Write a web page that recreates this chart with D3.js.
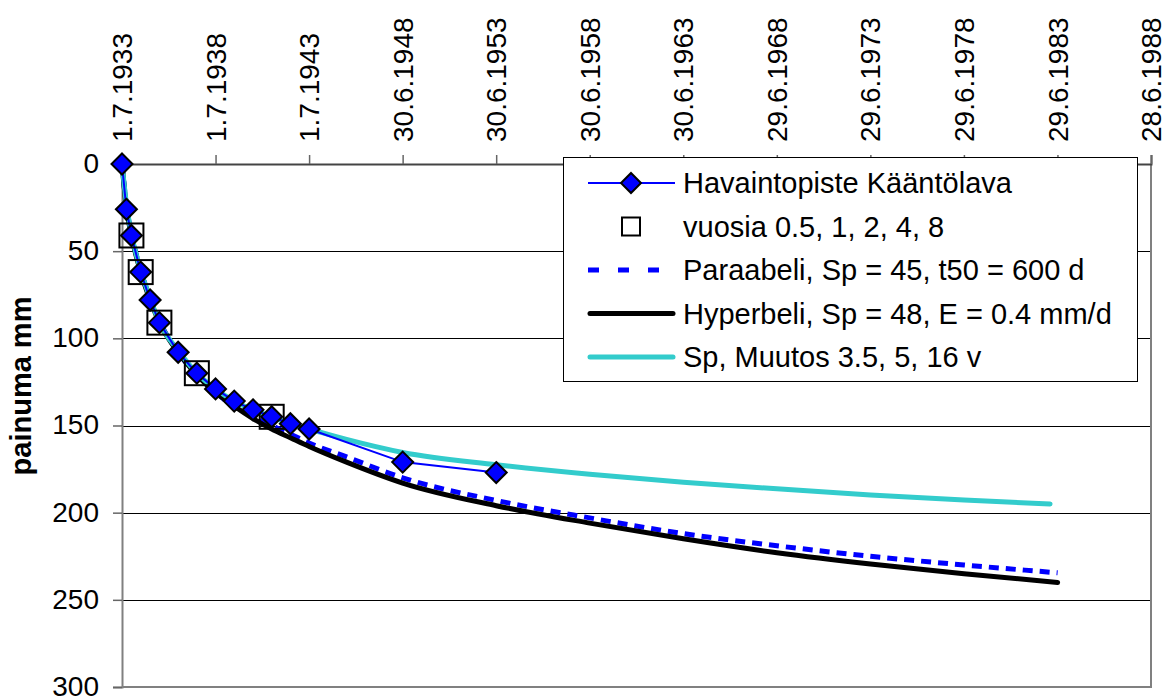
<!DOCTYPE html>
<html>
  <head>
    <meta charset="UTF-8">
    <style>
      body {
        margin: 0;
        background: #fff;
        font-family: "Liberation Sans", Arial, sans-serif;
      }

      .tick-label {
        font-size: 28px;
      }

      .legend-text {
        font-size: 29px;
      }
    </style>
    <script src="https://d3js.org/d3.v7.min.js"></script>
  </head>

  <body>
    <svg id="chart"></svg>

    <script type="text/javascript">
      // x axis: dates, ticks every 1826 days
      const xTickDates = ['1933-07-01', '1938-07-01', '1943-07-01', '1948-06-30', '1953-06-30', '1958-06-30',
        '1963-06-30', '1968-06-29', '1973-06-29', '1978-06-29', '1983-06-29', '1988-06-28']
      const xTickLabels = ['1.7.1933', '1.7.1938', '1.7.1943', '30.6.1948', '30.6.1953', '30.6.1958',
        '30.6.1963', '29.6.1968', '29.6.1973', '29.6.1978', '29.6.1983', '28.6.1988']
      const yTicks = [0, 50, 100, 150, 200, 250, 300]

      // Havaintopiste Kääntölava (observed settlement, mm)
      const obsDates = ['1933-07-01', '1933-09-25', '1934-01-01', '1934-07-01', '1935-01-01', '1935-07-01',
        '1936-07-01', '1937-07-01', '1938-07-01', '1939-07-01', '1940-07-01', '1941-07-01',
        '1942-07-01', '1943-07-01', '1948-07-01', '1953-07-01']
      const obsValues = [0, 26, 41, 62, 78, 91, 108, 120, 129, 136, 141, 145, 149, 152, 171, 177]

      // vuosia 0.5, 1, 2, 4, 8
      const yearDates = ['1934-01-01', '1934-07-01', '1935-07-01', '1937-07-01', '1941-07-01']
      const yearValues = [41, 62, 91, 120, 145]

      // fitted curves, time in years after 1.7.1933
      const paraYears = [0, 0.25, 0.5, 1, 1.5, 2, 3, 4, 5, 6, 7, 8, 9, 10, 12, 15, 20, 25, 30, 35, 40, 45, 50]
      const paraValues = [0, 25, 40, 61, 77, 90, 108, 121, 131, 139, 145, 150, 155, 160, 168, 180, 193, 203, 212, 219, 225, 230, 234.5]

      const hyperYears = [0, 0.25, 0.5, 1, 1.5, 2, 3, 4, 5, 6, 7, 8, 9, 10, 12, 15, 20, 25, 30, 35, 40, 45, 50]
      const hyperValues = [0, 26, 41, 62, 78, 91, 108, 121, 131, 139, 146, 152, 157, 162, 171, 183, 196, 206, 215, 223, 229.5, 235, 240]

      const muutosYears = [0, 0.25, 0.5, 1, 1.5, 2, 3, 4, 5, 6, 7, 8, 9, 10, 12, 15, 20, 25, 30, 35, 40, 45, 49.6]
      const muutosValues = [0, 24, 40, 61, 77, 91, 107, 120, 129, 136, 141, 145, 149, 152, 158, 165.5, 172.5, 178, 182.5, 186.3, 189.8, 192.8, 195]

      const legendItems = [
        {key: 'obs', title: 'Havaintopiste Kääntölava'},
        {key: 'years', title: 'vuosia 0.5, 1, 2, 4, 8'},
        {key: 'para', title: 'Paraabeli, Sp = 45, t50 = 600 d'},
        {key: 'hyper', title: 'Hyperbeli, Sp = 48, E = 0.4 mm/d'},
        {key: 'muutos', title: 'Sp, Muutos 3.5, 5, 16 v'}
      ]

      const parse = d3.utcParse('%Y-%m-%d')
      const start = parse('1933-07-01')
      const yearsToDate = y => d3.utcDay.offset(start, Math.round(y * 365.25))

      const width = 1171
      const height = 697
      const plot = {left: 122, right: 1151, top: 164, bottom: 687}

      const svg = d3.select('#chart')
        .attr('width', width)
        .attr('height', height)

      const x = d3.scaleUtc()
        .domain([start, parse('1988-06-28')])
        .range([plot.left, plot.right])

      const y = d3.scaleLinear()
        .domain([0, 300])
        .range([plot.top, plot.bottom])

      // grid lines
      svg.append('g')
        .selectAll('line')
        .data(yTicks.filter(d => d > 0 && d < 300))
        .enter().append('line')
        .attr('x1', plot.left).attr('x2', plot.right)
        .attr('y1', d => Math.round(y(d)) + 0.5).attr('y2', d => Math.round(y(d)) + 0.5)
        .attr('stroke', '#000')
        .attr('stroke-width', 1)

      // plot frame (right, bottom)
      svg.append('path')
        .attr('d', `M${plot.right},${plot.top} V${plot.bottom} H${plot.left}`)
        .attr('fill', 'none')
        .attr('stroke', '#808080')
        .attr('stroke-width', 2)

      // top axis
      let axisX = d3.axisTop(x)
        .tickValues(xTickDates.map(parse))
        .tickSize(9)
        .tickFormat('')
      let gx = svg.append('g')
        .attr('transform', `translate(0, ${plot.top})`)
        .call(axisX)
      gx.select('.domain').attr('stroke', '#444').attr('stroke-width', 2)
      gx.selectAll('.tick line').attr('stroke', '#666').attr('stroke-width', 1.5)

      svg.append('g')
        .selectAll('text')
        .data(xTickDates)
        .enter().append('text')
        .attr('class', 'tick-label')
        .attr('transform', d => `translate(${x(parse(d))}, 142) rotate(-90)`)
        .attr('dy', '0.36em')
        .attr('text-anchor', 'start')
        .text((d, i) => xTickLabels[i])

      // left axis
      let axisY = d3.axisLeft(y)
        .tickValues(yTicks)
        .tickSize(9)
        .tickPadding(14)
      let gy = svg.append('g')
        .attr('transform', `translate(${plot.left}, 0)`)
        .call(axisY)
      gy.select('.domain').attr('stroke', '#808080').attr('stroke-width', 2)
      gy.selectAll('.tick line').attr('stroke', '#666').attr('stroke-width', 1.5)
      gy.selectAll('.tick text')
        .attr('class', 'tick-label')
        .attr('font-family', null)
        .attr('font-size', null)
        .attr('fill', '#000')
        .attr('dy', '0.3em')

      svg.append('text')
        .attr('transform', 'translate(31, 386) rotate(-90)')
        .attr('text-anchor', 'middle')
        .style('font-size', '29px')
        .style('font-weight', 'bold')
        .text('painuma mm')

      // curves
      const curveLine = d3.line()
        .x(d => x(d[0]))
        .y(d => y(d[1]))
        .curve(d3.curveMonotoneX)

      const paraData = paraYears.map((t, i) => [yearsToDate(t), paraValues[i]])
      const hyperData = hyperYears.map((t, i) => [yearsToDate(t), hyperValues[i]])
      const muutosData = muutosYears.map((t, i) => [yearsToDate(t), muutosValues[i]])
      const obsData = obsDates.map((d, i) => [parse(d), obsValues[i]])
      const yearData = yearDates.map((d, i) => [parse(d), yearValues[i]])

      svg.append('path')
        .attr('d', curveLine(paraData))
        .attr('fill', 'none')
        .attr('stroke', '#0000ff')
        .attr('stroke-width', 5)
        .attr('stroke-dasharray', '10,7')

      svg.append('path')
        .attr('d', curveLine(hyperData))
        .attr('fill', 'none')
        .attr('stroke', '#000')
        .attr('stroke-width', 5)
        .attr('stroke-linecap', 'round')

      svg.append('path')
        .attr('d', curveLine(muutosData))
        .attr('fill', 'none')
        .attr('stroke', '#33cccc')
        .attr('stroke-width', 5)
        .attr('stroke-linecap', 'round')

      svg.append('path')
        .attr('d', d3.line().x(d => x(d[0])).y(d => y(d[1]))(obsData))
        .attr('fill', 'none')
        .attr('stroke', '#0000ff')
        .attr('stroke-width', 2)

      const diamond = s => `M0,${-s} L${s},0 L0,${s} L${-s},0 Z`

      svg.append('g')
        .selectAll('rect')
        .data(yearData)
        .enter().append('rect')
        .attr('x', d => x(d[0]) - 12)
        .attr('y', d => y(d[1]) - 12)
        .attr('width', 24)
        .attr('height', 24)
        .attr('fill', 'none')
        .attr('stroke', '#000')
        .attr('stroke-width', 2)

      svg.append('g')
        .selectAll('path')
        .data(obsData)
        .enter().append('path')
        .attr('transform', d => `translate(${x(d[0])}, ${y(d[1])})`)
        .attr('d', diamond(10.5))
        .attr('fill', '#0000ff')
        .attr('stroke', '#000')
        .attr('stroke-width', 2)

      // legend
      const legend = svg.append('g')
      legend.append('rect')
        .attr('x', 563.5).attr('y', 157.5)
        .attr('width', 574).attr('height', 224)
        .attr('fill', '#fff')
        .attr('stroke', '#000')
        .attr('stroke-width', 1)

      const rows = legend.selectAll('.legend-row')
        .data(legendItems)
        .enter().append('g')
        .attr('class', 'legend-row')
        .attr('transform', (d, i) => `translate(0, ${183 + i * 43.5})`)

      rows.append('text')
        .attr('class', 'legend-text')
        .attr('x', 683)
        .attr('y', 10)
        .text(d => d.title)

      rows.filter(d => d.key === 'obs').append('line')
        .attr('x1', 588).attr('x2', 675)
        .attr('stroke', '#0000ff').attr('stroke-width', 2)
      rows.filter(d => d.key === 'obs').append('path')
        .attr('transform', 'translate(631, 0)')
        .attr('d', diamond(10))
        .attr('fill', '#0000ff').attr('stroke', '#000').attr('stroke-width', 2)
      rows.filter(d => d.key === 'years').append('rect')
        .attr('x', 622).attr('y', -9).attr('width', 18).attr('height', 18)
        .attr('fill', 'none').attr('stroke', '#000').attr('stroke-width', 2)
      rows.filter(d => d.key === 'para').append('line')
        .attr('x1', 588).attr('x2', 675)
        .attr('stroke', '#0000ff').attr('stroke-width', 5)
        .attr('stroke-dasharray', '11,19')
      rows.filter(d => d.key === 'hyper').append('line')
        .attr('x1', 590).attr('x2', 673)
        .attr('stroke', '#000').attr('stroke-width', 5).attr('stroke-linecap', 'round')
      rows.filter(d => d.key === 'muutos').append('line')
        .attr('x1', 590).attr('x2', 673)
        .attr('stroke', '#33cccc').attr('stroke-width', 5).attr('stroke-linecap', 'round')
    </script>
  </body>
</html>
